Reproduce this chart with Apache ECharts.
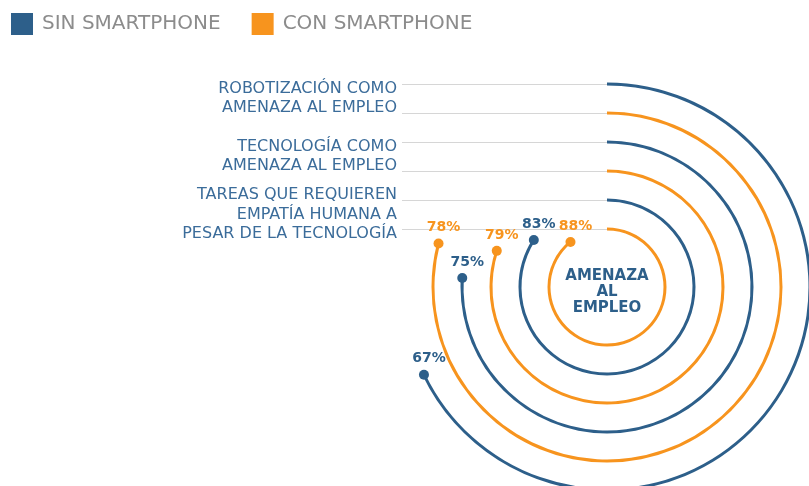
<!DOCTYPE html>
<html>
<head>
<meta charset="utf-8">
<script src="https://cdn.jsdelivr.net/npm/echarts@6/dist/echarts.min.js"></script>
<style>
  html, body { margin: 0; padding: 0; background: #ffffff; }
  #chart { width: 809px; height: 486px; }
</style>
</head>
<body>
<div id="chart"></div>
<script>
// Topics, innermost first
const topics = [
  'TAREAS QUE REQUIEREN\nEMPATÍA HUMANA A\nPESAR DE LA TECNOLOGÍA',
  'TECNOLOGÍA COMO\nAMENAZA AL EMPLEO',
  'ROBOTIZACIÓN COMO\nAMENAZA AL EMPLEO'
];
const sinSmartphone = [83, 75, 67];
const conSmartphone = [88, 79, 78];
const seriesNames = ['SIN SMARTPHONE', 'CON SMARTPHONE'];

const BLUE = '#2d5f8a';
const ORANGE = '#f7941e';
const CENTER = [607, 287];
const RADIUS = [43.5, 217.5];
const ANGLE_MAX = 98.7;

// Each topic gets two rings: "con" inside, "sin" outside
const rings = [];
topics.forEach((t) => { rings.push(t + ' (con)', t + ' (sin)'); });

const conBars = [], sinBars = [], conDots = [], sinDots = [];
topics.forEach((t, i) => {
  conBars.push(conSmartphone[i], '-');
  sinBars.push('-', sinSmartphone[i]);
  conDots.push([2 * i, conSmartphone[i]]);
  sinDots.push([2 * i + 1, sinSmartphone[i]]);
});

const hiddenAngle = {
  type: 'value', min: 0, max: ANGLE_MAX, startAngle: 90, clockwise: true,
  axisLine: { show: false }, axisTick: { show: false },
  axisLabel: { show: false }, splitLine: { show: false }
};

function arcSeries(name, data, color) {
  return {
    name, type: 'bar', coordinateSystem: 'polar', polarIndex: 1,
    data, barWidth: 3, barGap: '-100%', silent: true,
    itemStyle: { color }
  };
}
function dotSeries(name, data, color) {
  return {
    name, type: 'scatter', coordinateSystem: 'polar', polarIndex: 1,
    data, symbolSize: 10, z: 5, silent: true,
    itemStyle: { color, opacity: 1 },
    label: {
      show: true, position: 'top', distance: 4, offset: [5, 0],
      formatter: p => p.value[1] + '%',
      color, fontFamily: 'DejaVu Sans', fontWeight: 'bold', fontSize: 14
    }
  };
}

const chart = echarts.init(document.getElementById('chart'), null, { renderer: 'canvas' });
chart.setOption({
  animation: false,
  legend: {
    data: seriesNames, left: 11, top: 13, padding: 0, itemWidth: 22, itemHeight: 22,
    itemGap: 31, icon: 'rect', selectedMode: false,
    textStyle: { color: '#8c8c8c', fontFamily: 'DejaVu Sans', fontSize: 20, padding: [0, 0, 0, 4] }
  },
  polar: [
    { center: CENTER, radius: RADIUS },
    { center: CENTER, radius: RADIUS }
  ],
  angleAxis: [
    Object.assign({ polarIndex: 0 }, hiddenAngle),
    Object.assign({ polarIndex: 1 }, hiddenAngle)
  ],
  radiusAxis: [
    {
      polarIndex: 0, type: 'category', data: topics,
      axisLine: { show: false }, axisTick: { show: false }, splitLine: { show: false },
      axisLabel: {
        interval: 0, margin: 210, color: '#3b6c9a', fontFamily: 'DejaVu Sans', fontSize: 16,
        lineHeight: 19.5, padding: [0, 0, 12, 0]
      }
    },
    {
      polarIndex: 1, type: 'category', data: rings,
      axisLine: { show: false }, axisLabel: { show: false }, splitLine: { show: false },
      axisTick: {
        show: true, interval: 0, alignWithLabel: true, length: 205,
        lineStyle: { color: '#d6d6d6', width: 1 }
      }
    }
  ],
  graphic: [{
    type: 'text', x: CENTER[0], y: CENTER[1] + 5, silent: true,
    style: {
      text: 'AMENAZA\nAL\nEMPLEO', align: 'center', verticalAlign: 'middle',
      fill: BLUE, font: 'bold 15px "DejaVu Sans"', lineHeight: 16
    }
  }],
  series: [
    arcSeries(seriesNames[1], conBars, ORANGE),
    arcSeries(seriesNames[0], sinBars, BLUE),
    dotSeries(seriesNames[1], conDots, ORANGE),
    dotSeries(seriesNames[0], sinDots, BLUE)
  ]
});
</script>
</body>
</html>
